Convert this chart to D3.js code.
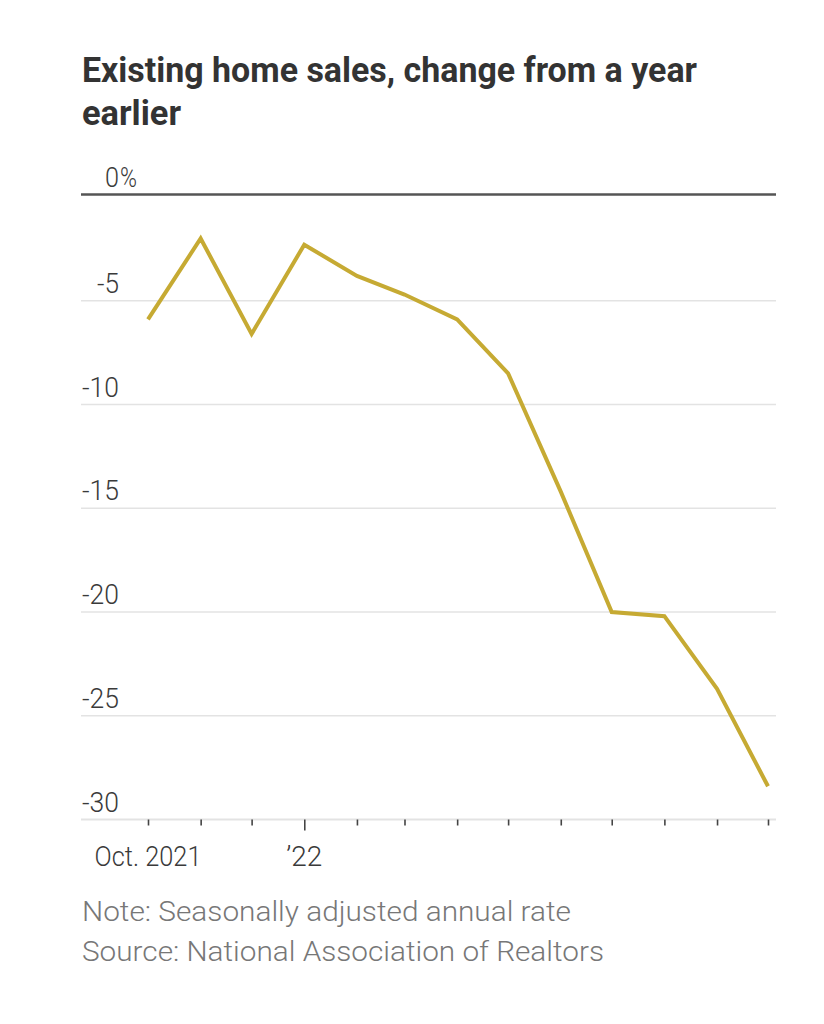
<!DOCTYPE html>
<html>
<head>
<meta charset="utf-8">
<script src="https://cdn.jsdelivr.net/npm/d3@7"></script>
<style>
  html, body { margin: 0; padding: 0; background: #fff; }
  svg { display: block; }
</style>
</head>
<body>
<svg id="chart" width="824" height="1024"></svg>
<script>
// ---- data ----
const months = ["2021-10","2021-11","2021-12","2022-01","2022-02","2022-03","2022-04","2022-05","2022-06","2022-07","2022-08","2022-09","2022-10"];
const changePct = [-5.9, -2.0, -6.6, -2.3, -3.8, -4.7, -5.9, -8.5, -14.2, -20.0, -20.2, -23.7, -28.4];
const yTicks = [0, -5, -10, -15, -20, -25, -30];
const xLabels = [{m: "2021-10", label: "Oct. 2021"}, {m: "2022-01", label: "\u201922"}];
const titleLines = ["Existing home sales, change from a year", "earlier"];
const noteLines = ["Note: Seasonally adjusted annual rate", "Source: National Association of Realtors"];

const parse = d3.timeParse("%Y-%m");
const data = months.map((m, i) => ({date: parse(m), value: changePct[i]}));

const svg = d3.select("#chart");
const LIGHT = "Roboto";

const x = d3.scaleTime()
  .domain([parse(months[0]), parse(months[months.length - 1])])
  .range([148, 768]);
const y = d3.scaleLinear().domain([-30, 0]).range([819.5, 197]);
const gridX0 = 81, gridX1 = 776;

// title
svg.append("g").selectAll("text").data(titleLines).join("text")
  .attr("x", 82)
  .attr("y", (d, i) => 82 + i * 43)
  .attr("font-family", "Roboto")
  .attr("font-weight", 700)
  .attr("font-size", 35)
  .attr("fill", "#333")
  .text(d => d)
  .each(function(d, i) {
    d3.select(this).attr("textLength", i === 0 ? 615 : 99).attr("lengthAdjust", "spacingAndGlyphs");
  });

// gridlines
const grid = svg.append("g");
grid.selectAll("line").data(yTicks.filter(v => v !== 0 && v !== -30)).join("line")
  .attr("x1", gridX0).attr("x2", gridX1)
  .attr("y1", d => y(d)).attr("y2", d => y(d))
  .attr("stroke", "#e3e3e3").attr("stroke-width", 1.5);

// bottom axis line (-30)
svg.append("line")
  .attr("x1", gridX0).attr("x2", gridX1)
  .attr("y1", y(-30)).attr("y2", y(-30))
  .attr("stroke", "#e3e3e3").attr("stroke-width", 2);

// x ticks via d3 axis
const xAxis = d3.axisBottom(x).ticks(d3.timeMonth.every(1)).tickFormat("").tickSizeOuter(0)
  .tickSize(6);
const gx = svg.append("g").attr("transform", `translate(0,${y(-30)})`).call(xAxis);
gx.select(".domain").remove();
gx.selectAll(".tick line")
  .attr("stroke", "#444").attr("stroke-width", 1.6)
  .attr("y2", d => d.getMonth() === 0 ? 11 : 6);

// x labels
svg.append("g").selectAll("text").data(xLabels).join("text")
  .attr("x", d => x(parse(d.m)))
  .attr("y", 866)
  .attr("text-anchor", "middle")
  .attr("font-family", LIGHT).attr("font-weight", 300)
  .attr("font-size", 27)
  .attr("fill", "#3a3a3a")
  .text(d => d.label)
  .each(function(d) {
    d3.select(this).attr("textLength", d.m === "2021-10" ? 107 : 36).attr("lengthAdjust", "spacingAndGlyphs");
  });

// y labels
const yl = svg.append("g");
yl.selectAll("text.num").data(yTicks).join("text")
  .attr("class", "num")
  .attr("x", 119)
  .attr("y", d => y(d) - (d === 0 ? 10 : 8))
  .attr("text-anchor", "end")
  .attr("font-family", LIGHT).attr("font-weight", 300)
  .attr("font-size", 27)
  .attr("fill", "#3a3a3a")
  .text(d => d === 0 ? "0" : String(d))
  .each(function(d) {
    const w = this.getComputedTextLength();
    const target = d === 0 ? 14 : (d === -5 ? 22 : 37);
    d3.select(this).attr("textLength", Math.min(w, target)).attr("lengthAdjust", "spacingAndGlyphs");
  });
yl.append("text")
  .attr("x", 120).attr("y", y(0) - 10)
  .attr("font-family", LIGHT).attr("font-weight", 300)
  .attr("font-size", 27).attr("fill", "#3a3a3a")
  .attr("textLength", 17).attr("lengthAdjust", "spacingAndGlyphs")
  .text("%");

// zero baseline
svg.append("line")
  .attr("x1", gridX0).attr("x2", gridX1)
  .attr("y1", y(0) - 2.5).attr("y2", y(0) - 2.5)
  .attr("stroke", "#555").attr("stroke-width", 2.5);

// line
const line = d3.line().x(d => x(d.date)).y(d => y(d.value));
svg.append("path").datum(data)
  .attr("d", line)
  .attr("fill", "none")
  .attr("stroke", "#c6aa33")
  .attr("stroke-width", 4)
  .attr("stroke-linejoin", "miter");

// notes
svg.append("g").selectAll("text").data(noteLines).join("text")
  .attr("x", 82)
  .attr("y", (d, i) => 921 + i * 40)
  .attr("font-family", LIGHT).attr("font-weight", 300)
  .attr("font-size", 27)
  .attr("fill", "#777")
  .text(d => d)
  .each(function(d, i) {
    d3.select(this).attr("textLength", i === 0 ? 489 : 522).attr("lengthAdjust", "spacingAndGlyphs");
  });
</script>
</body>
</html>
